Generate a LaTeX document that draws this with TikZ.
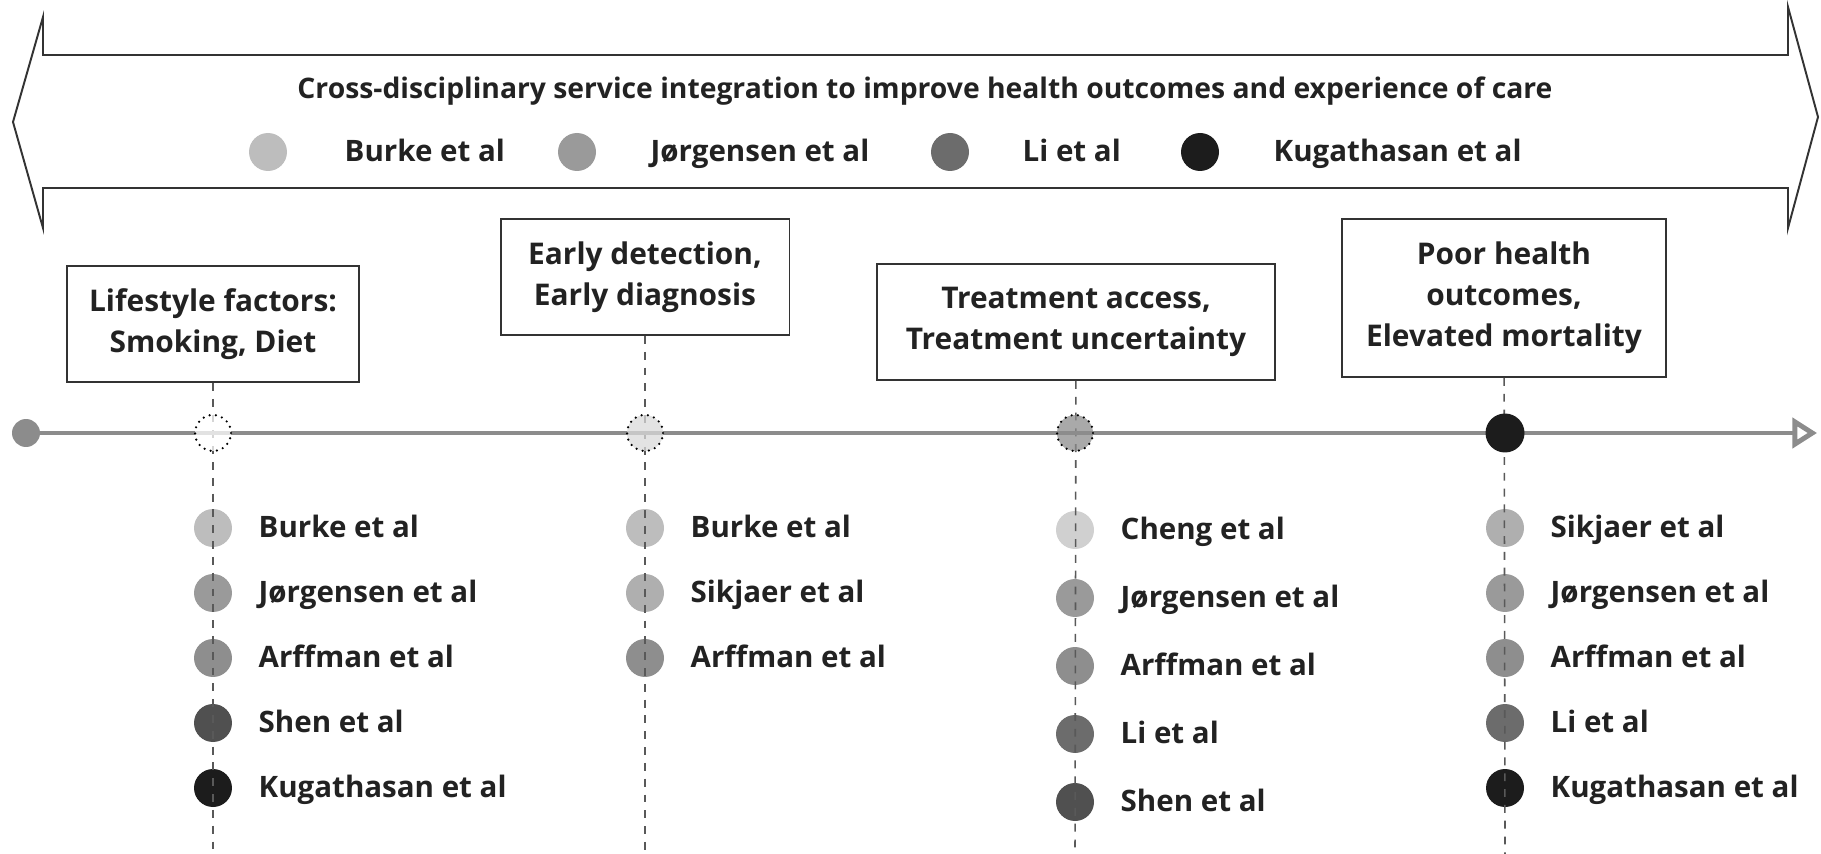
\documentclass[tikz,border=0pt]{standalone}
\usepackage{fontspec}
\setmainfont{Open Sans}
\usetikzlibrary{arrows.meta,positioning}

\definecolor{ink}{HTML}{222222}
\definecolor{frame}{HTML}{333333}
\definecolor{railgray}{HTML}{8C8C8C}
\definecolor{burke}{HTML}{BDBDBD}
\definecolor{cheng}{HTML}{D0D0D0}
\definecolor{sikjaer}{HTML}{AFAFAF}
\definecolor{jorg}{HTML}{9A9A9A}
\definecolor{arffman}{HTML}{8E8E8E}
\definecolor{li}{HTML}{6C6C6C}
\definecolor{shen}{HTML}{505050}
\definecolor{kug}{HTML}{1C1C1C}

\tikzset{
  lbl/.style={font=\fontsize{16.8}{22}\selectfont\bfseries, text=ink, inner sep=0pt,
              text height=1.36em, text depth=0.25em},
  topic/.style={draw=frame, line width=1.1pt, fill=white, align=center, inner sep=0pt,
                minimum height=2.32cm, font=\fontsize{17}{23.4}\selectfont\bfseries, text=ink},
  refdot/.style={circle, inner sep=0pt, minimum size=0.76cm},
  stage/.style={circle, draw=black, line width=1.4pt, dash pattern=on 0pt off 3.6pt,
                line cap=round, inner sep=0pt, minimum size=0.72cm, fill opacity=0.75},
  guide/.style={draw=black!65, line width=0.9pt, dash pattern=on 4.5pt off 4.5pt},
}

\begin{document}
\begin{tikzpicture}[x=0.02cm, y=-0.02cm]
\useasboundingbox (0,0) rectangle (1821,854);

% big double arrow across the top
\draw[frame, line width=1.1pt, line join=miter] (13,122) -- (43,17) -- (43,55) -- (1788,55) -- (1788,7)
  -- (1818,117) -- (1788,228) -- (1788,188) -- (43,188) -- (43,228) -- cycle;
\node[lbl, font=\fontsize{16.1}{22}\selectfont\bfseries] (title) at (925,89)
  {Cross-disciplinary service integration to improve health outcomes and experience of care};

% legend row
\node[refdot, fill=burke] (lg1) at (268,152) {};
\node[lbl, right=1.14cm of lg1] (lgt1) {Burke et al};
\node[refdot, fill=jorg] (lg2) at (577,152) {};
\node[lbl, right=1.08cm of lg2] (lgt2) {Jørgensen et al};
\node[refdot, fill=li] (lg3) at (950,152) {};
\node[lbl, right=1.06cm of lg3] (lgt3) {Li et al};
\node[refdot, fill=kug] (lg4) at (1200,152) {};
\node[lbl, right=1.08cm of lg4] (lgt4) {Kugathasan et al};

% the four stages
\node[topic, minimum width=5.84cm] (life) at (213,324) {Lifestyle factors:\\Smoking, Diet};
\node[topic, minimum width=5.78cm] (early) at (645,277) {Early detection,\\Early diagnosis};
\node[topic, minimum width=7.96cm] (treat) at (1076,322) {Treatment access,\\Treatment uncertainty};
\node[topic, minimum width=6.48cm, minimum height=3.16cm] (poor) at (1504,298)
  {Poor health\\outcomes,\\Elevated mortality};

% studies under each stage
\foreach \who/\col [count=\i] in {Burke et al/burke, Jørgensen et al/jorg, Arffman et al/arffman,
    Shen et al/shen, Kugathasan et al/kug}{
  \node[refdot, fill=\col] (a\i) at (213,{463+65*\i}) {};
  \node[lbl, right=0.52cm of a\i] (na\i) {\who};
}
\foreach \who/\col [count=\i] in {Burke et al/burke, Sikjaer et al/sikjaer, Arffman et al/arffman}{
  \node[refdot, fill=\col] (b\i) at (645,{463+65*\i}) {};
  \node[lbl, right=0.52cm of b\i] (nb\i) {\who};
}
\foreach \who/\col [count=\i] in {Cheng et al/cheng, Jørgensen et al/jorg, Arffman et al/arffman,
    Li et al/li, Shen et al/shen}{
  \node[refdot, fill=\col] (c\i) at (1075,{462+68*\i}) {};
  \node[lbl, right=0.52cm of c\i] (nc\i) {\who};
}
\foreach \who/\col [count=\i] in {Sikjaer et al/sikjaer, Jørgensen et al/jorg, Arffman et al/arffman,
    Li et al/li, Kugathasan et al/kug}{
  \node[refdot, fill=\col] (d\i) at (1505,{463+65*\i}) {};
  \node[lbl, right=0.52cm of d\i] (nd\i) {\who};
}

% dashed drop lines
\coordinate (e1) at (213,854);
\coordinate (e2) at (645,854);
\coordinate (e3) at (1075,854);
\coordinate (e4) at (1505,854);
\draw[guide] (life) -- (e1);
\draw[guide] (early) -- (e2);
\draw[guide] (treat) -- (e3);
\draw[guide] (poor) -- (e4);

% time line
\coordinate (t0) at (26,433);
\coordinate (t1) at (1817,433);
\draw[railgray, line width=2.8pt, -{Triangle[open, length=14pt, width=17pt]}] (t0) -- (t1);
\node[refdot, fill=railgray, minimum size=0.56cm] (start) at (t0) {};
\node[stage, fill=white] (s1) at (213,433) {};
\node[stage, fill=black!15] (s2) at (645,433) {};
\node[stage, fill=black!45] (s3) at (1075,433) {};
\node[refdot, fill=kug, minimum size=0.78cm] (s4) at (1505,433) {};
\end{tikzpicture}
\end{document}
